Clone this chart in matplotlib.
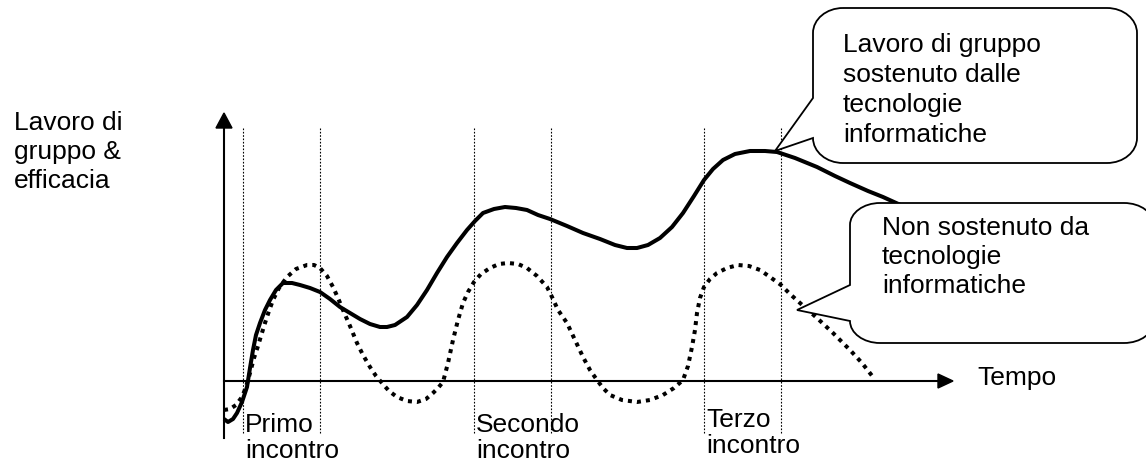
import matplotlib
matplotlib.use("Agg")
import matplotlib.pyplot as plt
from matplotlib.path import Path
from matplotlib.patches import PathPatch, Polygon

plt.rcParams["font.family"] = ["Liberation Sans", "DejaVu Sans"]

# time (t) and effectiveness (v)
# work supported by IT (solid line)
solid_t = [0, 4, 9, 13, 18, 23, 26, 29, 32, 36, 41, 46, 52, 59, 68, 76, 86, 96,
           106, 116, 126, 136, 146, 156, 163, 171, 183, 193, 203, 213, 223, 233,
           243, 251, 259, 270, 281, 292, 303, 314, 326, 343, 359, 376, 391, 403,
           413, 424, 436, 448, 459, 470, 480, 489, 499, 511, 526, 541, 553, 571,
           593, 611, 626, 644, 659, 681]
solid_v = [-37, -40, -37, -31, -20, -5, 14, 32, 47, 59, 72, 82, 92, 99, 99, 97, 94, 90,
           83, 75, 69, 63, 58, 55, 55, 57, 65, 77, 92, 109, 125, 139,
           152, 161, 169, 173, 175, 174, 172, 167, 163, 156, 149, 143, 137, 134,
           134, 137, 144, 155, 169, 186, 202, 213, 222, 228, 231, 231, 230, 224,
           215, 206, 199, 191, 185, 175]

# work not supported by IT (dotted line)
dotted_t = [0, 6, 12, 18, 22, 26, 30, 34, 37, 41, 45, 49, 55, 63, 72, 83, 90, 96,
            103, 109, 114, 119, 126, 133, 139, 146, 152, 158, 165, 173, 183, 193,
            202, 209, 214, 219, 224, 229, 234, 239, 244, 250, 257, 266, 275, 284,
            294, 303, 313, 323, 328, 334, 343, 351, 359, 366, 373, 379, 386, 398,
            413, 426, 439, 450, 459, 464, 468, 471, 473, 476, 480, 486, 493, 503,
            514, 525, 536, 546, 557, 566, 576, 593, 609, 626, 638, 649]
dotted_v = [-28, -27, -23, -15, -5, 9, 24, 36, 46, 59, 71, 82, 94, 105, 113, 117, 117, 114,
            106, 95, 84, 72, 56, 39, 27, 15, 6, -1, -9, -15, -19, -20,
            -17, -11, -6, 0, 19, 42, 62, 79, 90, 100, 108, 114, 118, 119,
            118, 114, 106, 95, 85, 72, 59, 42, 25, 12, 2, -6, -13, -18,
            -20, -18, -13, -6, 2, 16, 35, 52, 69, 84, 95, 103, 109, 114,
            117, 116, 112, 105, 97, 88, 79, 64, 49, 32, 19, 5]

# meeting windows (start, end) and labels
meet_start = [19, 250, 480]
meet_end = [96, 327, 557]
meet_labels = ["Primo", "Secondo", "Terzo"]
meet_label_v = [-50, -50, -45]

y_label_lines = ["Lavoro di", "gruppo &", "efficacia"]
x_label = "Tempo"
callout_1 = ["Lavoro di gruppo", "sostenuto dalle", "tecnologie", "informatiche"]
callout_2 = ["Non sostenuto da", "tecnologie", "informatiche"]

FS = 19


def lines(ax, x, y0, texts, step):
    for i, s in enumerate(texts):
        ax.text(x, y0 - i * step, s, fontsize=FS, ha="left", va="baseline",
                color="black", zorder=6)


def bubble(x0, x1, y0, y1, rx, ry, tip, base_hi, base_lo):
    """Rounded-box speech bubble with a pointer on its left side."""
    k = 0.5523
    verts = [(x0 + rx, y1), (x1 - rx, y1)]
    codes = [Path.MOVETO, Path.LINETO]
    verts += [(x1 - rx + k * rx, y1), (x1, y1 - ry + k * ry), (x1, y1 - ry)]
    codes += [Path.CURVE4] * 3
    verts += [(x1, y0 + ry)]
    codes += [Path.LINETO]
    verts += [(x1, y0 + ry - k * ry), (x1 - rx + k * rx, y0), (x1 - rx, y0)]
    codes += [Path.CURVE4] * 3
    verts += [(x0 + rx, y0)]
    codes += [Path.LINETO]
    verts += [(x0 + rx - k * rx, y0), (x0, y0 + ry - k * ry), (x0, y0 + ry)]
    codes += [Path.CURVE4] * 3
    verts += [(x0, base_lo), tip, (x0, base_hi), (x0, y1 - ry)]
    codes += [Path.LINETO] * 4
    verts += [(x0, y1 - ry + k * ry), (x0 + rx - k * rx, y1), (x0 + rx, y1)]
    codes += [Path.CURVE4] * 3
    return PathPatch(Path(verts, codes), facecolor="white", edgecolor="black",
                     linewidth=1.3, zorder=5, clip_on=True)


fig = plt.figure(figsize=(11.46, 4.62), dpi=100)
ax = fig.add_axes([0, 0, 1, 1])
ax.set_xlim(-224, 922)
ax.set_ylim(-80, 382)
ax.axis("off")

# meeting windows
for a, b in zip(meet_start, meet_end):
    for xx in (a, b):
        ax.plot([xx, xx], [-51, 254], color="black", lw=0.8,
                ls=(0, (1.5, 1.5)), zorder=1)

# axes with arrow heads
ax.plot([0, 0], [-56, 256], color="black", lw=1.5, zorder=2)
ax.plot([0, 716], [1, 1], color="black", lw=1.5, zorder=2)
ax.add_patch(Polygon([(0, 269), (-8, 254), (8, 254)], closed=True,
                     color="black", zorder=2))
ax.add_patch(Polygon([(729, 1), (714, 8), (714, -6)], closed=True,
                     color="black", zorder=2))

ax.plot(solid_t, solid_v, color="black", lw=2.9, solid_capstyle="butt",
        solid_joinstyle="round", zorder=3)
ax.plot(dotted_t, dotted_v, color="black", lw=2.9, ls=(0, (1, 1.25)),
        zorder=3)

ax.add_patch(bubble(589, 913, 219, 374, 30, 25, (551, 231), 284, 244))
ax.add_patch(bubble(626, 930, 39, 179, 30, 22, (573, 72), 97, 61))

lines(ax, -210, 252, y_label_lines, step=29)
lines(ax, 619, 330, callout_1, step=30)
lines(ax, 658, 147, callout_2, step=29)
ax.text(753, -3, x_label, fontsize=FS, ha="left", va="baseline", zorder=6)

for xs, lab, v in zip(meet_start, meet_labels, meet_label_v):
    lines(ax, xs + 2, v, [lab, "incontro"], step=26)

fig.savefig("out.png", dpi=100)
